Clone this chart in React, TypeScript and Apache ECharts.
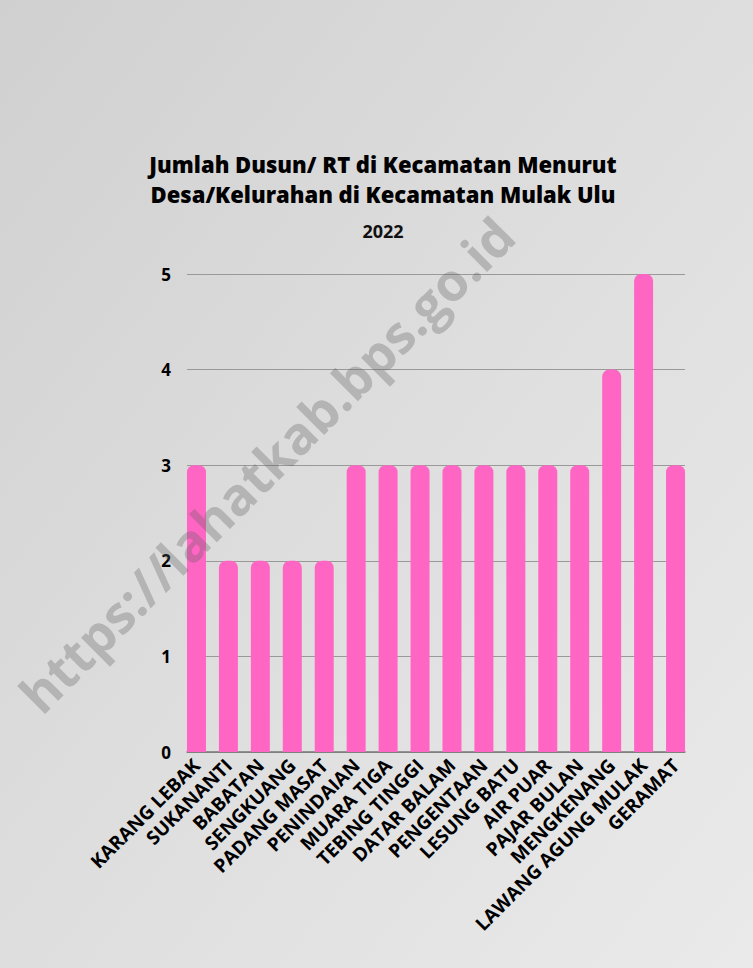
import React, { useEffect, useRef } from "react";
import * as echarts from "echarts";

const categories = [
  "KARANG LEBAK",
  "SUKANANTI",
  "BABATAN",
  "SENGKUANG",
  "PADANG MASAT",
  "PENINDAIAN",
  "MUARA TIGA",
  "TEBING TINGGI",
  "DATAR BALAM",
  "PENGENTAAN",
  "LESUNG BATU",
  "AIR PUAR",
  "PAJAR BULAN",
  "MENGKENANG",
  "LAWANG AGUNG MULAK",
  "GERAMAT",
];
const values = [3, 2, 2, 2, 2, 3, 3, 3, 3, 3, 3, 3, 3, 4, 5, 3];
const yMin = 0;
const yMax = 5;
const yInterval = 1;
const titleLines = [
  "Jumlah Dusun/ RT di Kecamatan Menurut",
  "Desa/Kelurahan di Kecamatan Mulak Ulu",
];
const subtitle = "2022";
const watermark = "https://lahatkab.bps.go.id";

export default function App() {
  const ref = useRef<HTMLDivElement>(null);
  useEffect(() => {
    document.body.style.margin = "0";
    if (!ref.current) return;
    const chart = echarts.init(ref.current, undefined, { renderer: "svg" });
    const font = "'Open Sans', 'DejaVu Sans', sans-serif";
    chart.setOption({
      animation: false,
      backgroundColor: {
        type: "linear",
        x: 0,
        y: 0,
        x2: 1,
        y2: 1,
        colorStops: [
          { offset: 0, color: "#d0d0d0" },
          { offset: 0.5, color: "#dedede" },
          { offset: 1, color: "#eaeaea" },
        ],
      },
      graphic: [
        {
          type: "text",
          x: 383,
          y: 164,
          style: {
            text: titleLines[0],
            font: `800 22px ${font}`,
            fill: "#000",
            textAlign: "center",
            textVerticalAlign: "middle",
          },
        },
        {
          type: "text",
          x: 383,
          y: 194,
          style: {
            text: titleLines[1],
            font: `800 22px ${font}`,
            fill: "#000",
            textAlign: "center",
            textVerticalAlign: "middle",
          },
        },
        {
          type: "text",
          x: 383,
          y: 231,
          style: {
            text: subtitle,
            font: `bold 18px ${font}`,
            fill: "#111",
            textAlign: "center",
            textVerticalAlign: "middle",
          },
        },
        {
          type: "text",
          x: 266,
          y: 464,
          rotation: Math.PI / 4,
          z: 100,
          style: {
            text: watermark,
            font: `bold 52px ${font}`,
            fill: "rgba(90,90,90,0.3)",
            textAlign: "center",
            textVerticalAlign: "middle",
          },
        },
      ],
      grid: [
        { left: 187, right: 68, top: 274, bottom: 216 },
        { left: 180.5, right: 61.5, top: 274, bottom: 216 },
      ],
      xAxis: [
        {
          gridIndex: 0,
          type: "category",
          data: categories,
          axisLine: { show: true, lineStyle: { color: "#777", width: 1.5 } },
          axisTick: { show: false },
          axisLabel: { show: false },
        },
        {
          gridIndex: 1,
          type: "category",
          data: categories,
          axisLine: { show: false },
          axisTick: { show: false },
          axisLabel: {
            rotate: 45,
            interval: 0,
            margin: 10,
            color: "#000",
            fontFamily: font,
            fontWeight: "bold",
            fontSize: 19,
          },
        },
      ],
      yAxis: [
        {
          gridIndex: 0,
          type: "value",
          min: yMin,
          max: yMax,
          interval: yInterval,
          axisLine: { show: false },
          axisTick: { show: false },
          axisLabel: {
            margin: 16,
            color: "#000",
            fontFamily: font,
            fontWeight: "bold",
            fontSize: 17,
          },
          splitLine: { lineStyle: { color: "#999", width: 1 } },
        },
        {
          gridIndex: 1,
          type: "value",
          min: yMin,
          max: yMax,
          interval: yInterval,
          show: false,
          splitLine: { show: false },
        },
      ],
      series: [
        {
          type: "bar",
          xAxisIndex: 1,
          yAxisIndex: 1,
          data: values,
          barWidth: 19,
          itemStyle: { color: "#ff66c4", borderRadius: [7, 7, 0, 0] },
        },
      ],
    });
    return () => chart.dispose();
  }, []);
  return (
    <div
      ref={ref}
      style={{ position: "absolute", left: 0, top: 0, width: 753, height: 968 }}
    />
  );
}
